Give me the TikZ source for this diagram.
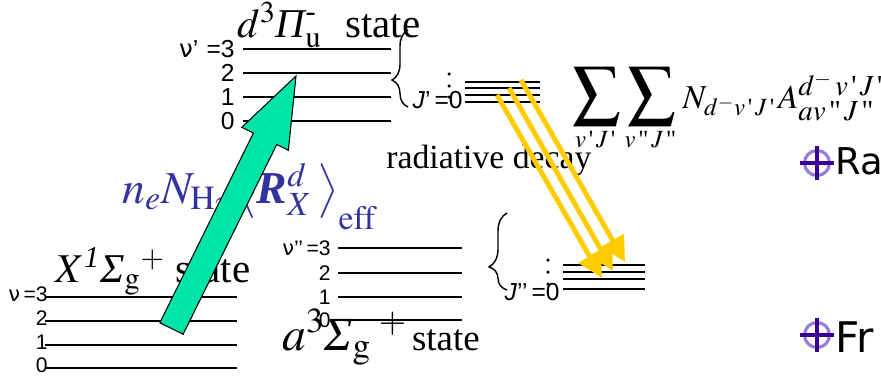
\documentclass[tikz,border=0pt]{standalone}
\usepackage{amsmath}
\usepackage{mathptmx}
\usepackage{fontspec}
\setmainfont{Liberation Serif}
\setsansfont{DejaVu Sans}
\newfontfamily\lvlfont{Liberation Sans}
\usepackage{tikz}
\usetikzlibrary{arrows.meta, positioning, calc, decorations.pathreplacing}
\definecolor{exgreen}{RGB}{0,228,168}
\definecolor{decayyellow}{RGB}{255,204,0}
\definecolor{formblue}{RGB}{51,51,160}
\definecolor{bulletdark}{RGB}{60,0,150}
\definecolor{bulletring}{RGB}{150,125,220}
\newcommand{\sq}{{\,\text{\textquotesingle}\,}}
\newcommand{\dq}{{\,\text{\textquotedbl}\,}}
\newcommand{\bigsum}{\mathop{\mbox{\fontsize{27}{27}\selectfont$\displaystyle\sum$}}\limits}
\newcommand{\midscript}[1]{\mbox{\fontsize{16.5}{16.5}\selectfont$#1$}}
\tikzset{
  level/.style={line width=1.1pt},
  vlab/.style={anchor=east, inner sep=0pt, font=\lvlfont\fontsize{14}{14}\selectfont},
  vlabsm/.style={anchor=east, inner sep=0pt, font=\lvlfont\fontsize{12}{12}\selectfont},
  statename/.style={anchor=base west, inner sep=0pt, font=\fontsize{23.3}{26}\selectfont},
  jdot/.style={circle, fill=black, inner sep=0pt, minimum size=0.07cm},
  levelbrace/.style={decorate, line width=0.8pt},
  decay/.style={-{Triangle[length=0.5cm, width=0.5cm]}, line width=2.8pt, draw=decayyellow},
  excite/.style={draw=black, fill=exgreen, line width=0.6pt},
  bullettext/.style={anchor=base west, inner sep=0pt, font=\sffamily}
}
\newcommand{\crossmark}[1]{%
  \draw[bulletring, line width=1.8pt] (#1) circle (0.25cm);
  \draw[bulletdark, line width=1.8pt] ($(#1)+(-17,0)$) -- ($(#1)+(17,0)$);
  \draw[bulletdark, line width=1.8pt] ($(#1)+(0,-17)$) -- ($(#1)+(0,17)$);}

\begin{document}
\begin{tikzpicture}[x=0.02cm, y=-0.02cm]
  \useasboundingbox (0,0) rectangle (881,380);
  \clip (0,0) rectangle (881,380);

  % d state (upper)
  \foreach \y/\t [count=\i] in {49/{{\sffamily ν}’\,\,=3},73/2,97/1,121/0}{
    \draw[level] (243,\y) -- (391,\y);
    \node[vlab] (dlab\i) at (235,\y) {\t};
  }
  \node[statename] (dstate) at (237,37) {$d^{3}\textit{Π}_{\mathrm{u}}^{\text{-}}$\,\, state};
  \draw[levelbrace, decoration={brace, amplitude=0.32cm, aspect=0.35}] (408,107) -- (408,30);
  \foreach \y/\t [count=\i] in {82/a,88/b,95/c,102/d}
    \draw[level] (465,\y) -- (540,\y) coordinate (dj\t);
  \foreach \y [count=\i] in {74,86,97}
    \node[jdot] (ddot\i) at (449,\y) {};
  \node[vlab] (djlab) at (463,100) {{\itshape J}’\,=0};

  % X state (ground)
  \foreach \y/\t [count=\i] in {297/{{\sffamily ν}\,=3},321/2,345/1,368/0}{
    \draw[level] (45,\y) -- (237,\y);
    \node[vlabsm] (xlab\i) at (48,\y-3) {\t};
  }
  \node[statename] (xstate) at (55,282) {$X^{\textit{1}}\textit{Σ}_{\mathrm{g}}{}^{+}$ state};

  % a state (lower)
  \foreach \y/\t [count=\i] in {248/{{\sffamily ν}’’\,=3},273/2,297/1,320/0}{
    \draw[level] (338,\y) -- (462,\y);
    \node[vlabsm] (alab\i) at (331,\y) {\t};
  }
  \node[statename] (astate) at (282,350)
    {{\fontsize{27}{30}\selectfont$a^{3}\textit{Σ}_{\mathrm{g}}{}^{\;+}$}\hspace{0.1cm}{\fontsize{21}{24}\selectfont state}};
  \draw[levelbrace, decoration={brace, amplitude=0.36cm, aspect=0.3}] (507,290) -- (507,213);
  \foreach \y/\t [count=\i] in {265/a,272/b,279/c,289/d}
    \draw[level] (563,\y) -- (645,\y);
  \foreach \y [count=\i] in {260,272,284}
    \node[jdot] (adot\i) at (548,\y) {};
  \node[vlab] (ajlab) at (560,292) {{\itshape J}’’\,=0};

  % texts
  \node[anchor=base west, inner sep=0pt, font=\fontsize{19.2}{22}\selectfont] (radlab) at (386,168) {radiative decay};
  \node[anchor=base west, inner sep=0pt, text=formblue, font=\fontsize{26}{30}\selectfont] (rate) at (122,203)
    {$n_{e}N_{\mathrm{H}_{2}}\,\big\langle \mbox{\bfseries\itshape R}^{d}_{X}\,\big\rangle_{\lower 5pt\hbox{$\scriptstyle\mathrm{eff}$}}$};
  \node[anchor=base west, inner sep=0pt, font=\fontsize{19}{22}\selectfont] (sumform) at (572,108)
    {$\bigsum_{v\sq J\sq}\bigsum_{v\dq J\dq} N_{d^{-}v\sq J\sq}A^{\midscript{d^{-}\,v\sq J\sq}}_{\midscript{av\dq J\dq}}$};

  % bullets
  \coordinate (bra) at (817,163);
  \coordinate (bfr) at (817,335);
  \crossmark{bra}
  \crossmark{bfr}
  \node[bullettext, font=\sffamily\fontsize{21}{22}\selectfont] (ratext) at (835,174) {Ra};
  \node[bullettext, font=\sffamily\fontsize{24}{28}\selectfont] (frtext) at (835,352) {Fr};

  % excitation arrow
  \coordinate (exfoot) at (171.5,328.5);
  \coordinate (extip) at (296,76);
  \coordinate (exhead) at ($(extip)!1.4cm!(exfoot)$);
  \draw[excite] ($(exfoot)!0.26cm!90:(extip)$) -- ($(exhead)!0.26cm!90:(extip)$)
    -- ($(exhead)!0.52cm!90:(extip)$) -- (extip) -- ($(exhead)!0.52cm!-90:(extip)$)
    -- ($(exhead)!0.26cm!-90:(extip)$) -- ($(exfoot)!0.26cm!-90:(extip)$) -- cycle;

  % decay arrows
  \coordinate (up1) at (497,95);  \coordinate (lo1) at (602,278);
  \coordinate (up2) at (509,88);  \coordinate (lo2) at (613,271);
  \coordinate (up3) at (521,80);  \coordinate (lo3) at (625,262);
  \foreach \i in {1,2,3}
    \draw[decay] (up\i) -- (lo\i);
\end{tikzpicture}
\end{document}
